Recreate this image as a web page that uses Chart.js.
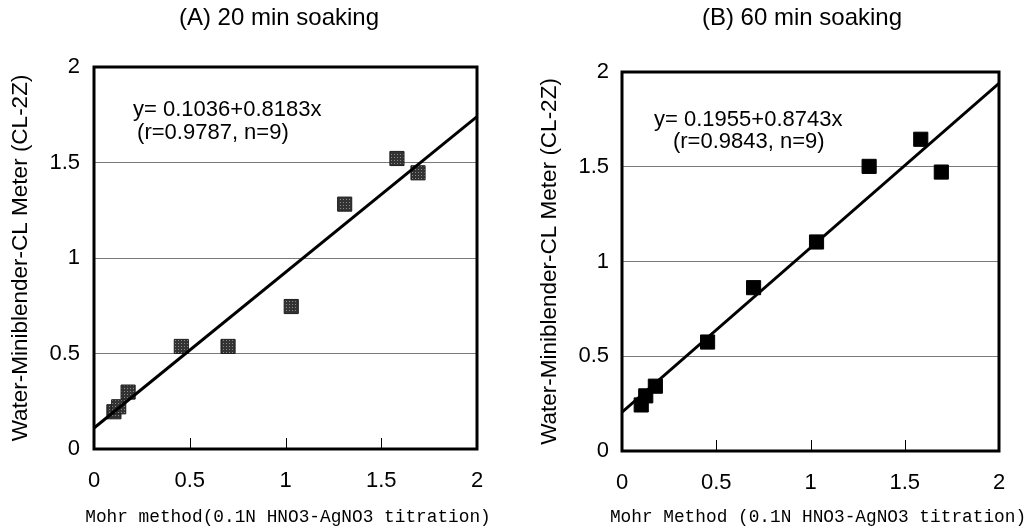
<!DOCTYPE html>
<html lang="en">
<head>
  <meta charset="UTF-8" />
  <title>Mohr method vs CL meter</title>
  <script src="https://cdn.jsdelivr.net/npm/chart.js"></script>
  <style>
    html, body { margin: 0; padding: 0; background: #fff; }
    .wrap { position: relative; width: 1032px; height: 530px; }
    .panel { position: absolute; top: 0; width: 516px; height: 530px; }
    #panelA { left: 0; }
    #panelB { left: 516px; }
  </style>
</head>
<body>
  <div class="wrap">
    <div class="panel" id="panelA"><canvas id="chartA"></canvas></div>
    <div class="panel" id="panelB"><canvas id="chartB"></canvas></div>
  </div>

  <script>
    // valores
    const titulos = ["(A) 20 min soaking", "(B) 60 min soaking"];
    const xLabels = ["Mohr method(0.1N HNO3-AgNO3 titration)", "Mohr Method (0.1N HNO3-AgNO3 titration)"];
    const yLabel = "Water-Miniblender-CL Meter (CL-2Z)";

    const xA = [0.104, 0.129, 0.178, 0.456, 0.70, 1.03, 1.309, 1.582, 1.692];
    const yA = [0.195, 0.221, 0.298, 0.537, 0.537, 0.746, 1.282, 1.521, 1.446];
    const fitXA = [0, 2];
    const fitYA = [0.11, 1.74];
    const eqA = ["y= 0.1036+0.8183x", "(r=0.9787, n=9)"];

    const xB = [0.102, 0.126, 0.177, 0.454, 0.698, 1.032, 1.311, 1.585, 1.694];
    const yB = [0.243, 0.291, 0.342, 0.575, 0.862, 1.103, 1.502, 1.645, 1.472];
    const fitXB = [0, 2];
    const fitYB = [0.205, 1.94];
    const eqB = ["y= 0.1955+0.8743x", "(r=0.9843, n=9)"];

    const FONT = "'Liberation Sans', Arial, sans-serif";
    const MONO = "'Liberation Mono', 'DejaVu Sans Mono', monospace";

    // padrão pontilhado dos quadrados do gráfico A
    function padraoCinza() {
      const t = document.createElement('canvas');
      t.width = 3; t.height = 3;
      const c = t.getContext('2d');
      c.fillStyle = '#333';
      c.fillRect(0, 0, 3, 3);
      c.fillStyle = '#8a8a8a';
      c.fillRect(1, 1, 1, 1);
      return c.createPattern(t, 'repeat');
    }

    // moldura, marcas internas do eixo x, título, equação e rótulo do eixo x
    const extras = {
      id: 'extras',
      afterDraw(chart, args, opts) {
        const ctx = chart.ctx;
        const a = chart.chartArea;
        const sx = chart.scales.x;
        const sy = chart.scales.y;
        ctx.save();
        ctx.strokeStyle = '#000';
        ctx.lineWidth = 1;
        sx.ticks.forEach(t => {
          if (t.value <= sx.min || t.value >= sx.max) return;
          const px = Math.round(sx.getPixelForValue(t.value)) + 0.5;
          ctx.beginPath();
          ctx.moveTo(px, a.bottom);
          ctx.lineTo(px, a.bottom - 11);
          ctx.stroke();
        });
        ctx.lineWidth = 3;
        ctx.strokeRect(a.left, a.top, a.right - a.left, a.bottom - a.top);

        ctx.fillStyle = '#000';
        ctx.font = '24px ' + FONT;
        ctx.textAlign = 'center';
        ctx.textBaseline = 'middle';
        ctx.fillText(opts.titulo, opts.tituloX, 18);

        ctx.font = '17.8px ' + MONO;
        ctx.fillText(opts.xLabel, opts.xLabelX, 517);

        ctx.textAlign = 'left';
        ctx.font = '22px ' + FONT;
        opts.eq.forEach((linha, i) => {
          ctx.fillText(linha, sx.getPixelForValue(opts.eqX[i]), sy.getPixelForValue(opts.eqY[i]));
        });
        ctx.restore();
      }
    };

    const rotulo = v => String(v);

    function desenhar(id, cfg) {
      new Chart(document.getElementById(id), {
        type: 'scatter',
        data: {
          datasets: [
            {
              label: 'medido',
              data: cfg.xs.map((x, i) => ({ x: x, y: cfg.ys[i] })),
              pointStyle: 'rect',
              pointRadius: 10,
              pointHoverRadius: 10,
              backgroundColor: cfg.fill,
              borderColor: cfg.borda,
              borderWidth: 1,
              order: 1
            },
            {
              label: 'ajuste',
              type: 'line',
              data: cfg.fitX.map((x, i) => ({ x: x, y: cfg.fitY[i] })),
              borderColor: '#000',
              borderWidth: 3,
              pointRadius: 0,
              fill: false,
              order: 0
            }
          ]
        },
        options: {
          responsive: true,
          maintainAspectRatio: false,
          animation: false,
          events: [],
          layout: { padding: { left: 0, right: cfg.padRight, top: cfg.padTop, bottom: 0 } },
          plugins: {
            legend: { display: false },
            tooltip: { enabled: false },
            extras: {
              titulo: cfg.titulo, tituloX: cfg.tituloX,
              xLabel: cfg.xLabel, xLabelX: cfg.xLabelX,
              eq: cfg.eq, eqX: cfg.eqX, eqY: cfg.eqY
            }
          },
          scales: {
            x: {
              type: 'linear',
              min: 0, max: 2,
              afterFit: s => { s.height = cfg.xHeight; },
              ticks: { stepSize: 0.5, padding: 19, color: '#000', font: { family: FONT, size: 22 }, callback: rotulo },
              grid: { display: false, drawTicks: false },
              border: { display: false }
            },
            y: {
              type: 'linear',
              min: 0, max: 2,
              afterFit: s => { s.width = cfg.yWidth; },
              ticks: { stepSize: 0.5, padding: cfg.yTickPad, color: '#000', font: { family: FONT, size: 22 }, callback: rotulo },
              grid: { color: '#7a7a7a', lineWidth: 1, drawTicks: false },
              border: { display: false },
              title: {
                display: true,
                text: yLabel,
                color: '#000',
                font: { family: FONT, size: 22.5 },
                padding: { top: cfg.yTitlePad, bottom: 0 }
              }
            }
          }
        },
        plugins: [extras]
      });
    }

    desenhar('chartA', {
      xs: xA, ys: yA, fitX: fitXA, fitY: fitYA,
      fill: padraoCinza(), borda: '#1e1e1e',
      titulo: titulos[0], tituloX: 279,
      xLabel: xLabels[0], xLabelX: 288,
      eq: eqA, eqX: [0.204, 0.225], eqY: [1.775, 1.654],
      padRight: 39, padTop: 67, xHeight: 81, yWidth: 94, yTickPad: 14, yTitlePad: 7
    });

    desenhar('chartB', {
      xs: xB, ys: yB, fitX: fitXB, fitY: fitYB,
      fill: '#000', borda: '#000',
      titulo: titulos[1], tituloX: 286,
      xLabel: xLabels[1], xLabelX: 302,
      eq: eqB, eqX: [0.17, 0.27], eqY: [1.747, 1.63],
      padRight: 33, padTop: 72, xHeight: 79, yWidth: 106, yTickPad: 13, yTitlePad: 20
    });
  </script>
</body>
</html>
